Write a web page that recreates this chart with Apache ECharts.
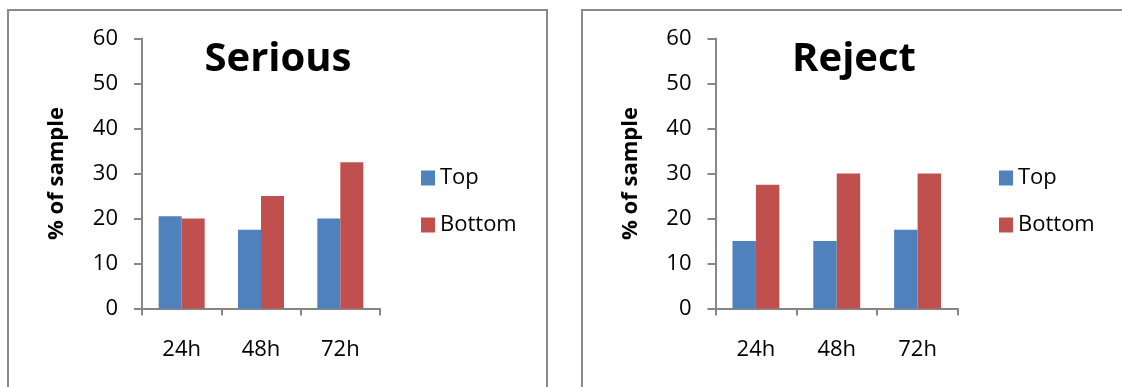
<!DOCTYPE html>
<html>
<head>
<meta charset="utf-8">
<script src="https://cdn.jsdelivr.net/npm/echarts@6/dist/echarts.min.js"></script>
<style>
  html, body { margin: 0; padding: 0; background: #fff; }
  #chart { width: 1122px; height: 387px; }
</style>
</head>
<body>
<div id="chart"></div>
<script>
// Time points after treatment
const categories = ['24h', '48h', '72h'];
const seriesNames = ['Top', 'Bottom'];

// Share of samples (%) rated "Serious"
const seriousTop = [20.5, 17.5, 20];
const seriousBottom = [20, 25, 32.5];

// Share of samples (%) rated "Reject"
const rejectTop = [15, 15, 17.5];
const rejectBottom = [27.5, 30, 30];

// Value axis range
const yMin = 0;
const yMax = 60;
const yStep = 10;

const FONT = '"Open Sans", "Liberation Sans", sans-serif';
const BLUE = '#4F81BD';
const RED = '#C0504D';
const AXIS_GRAY = '#868686';

function xAxisFor(gridIndex) {
  return {
    type: 'category',
    gridIndex: gridIndex,
    data: categories,
    axisLine: { lineStyle: { color: AXIS_GRAY, width: 2 } },
    axisTick: { show: true, length: 7, lineStyle: { color: AXIS_GRAY, width: 2 } },
    axisLabel: { color: '#000', fontFamily: FONT, fontSize: 22, margin: 30 },
    splitLine: { show: false }
  };
}

function yAxisFor(gridIndex) {
  return {
    type: 'value',
    gridIndex: gridIndex,
    min: yMin,
    max: yMax,
    interval: yStep,
    name: '% of sample',
    nameLocation: 'middle',
    nameRotate: 90,
    nameGap: 74,
    nameTextStyle: { color: '#000', fontFamily: FONT, fontSize: 22, fontWeight: 'bold' },
    axisLine: { show: true, lineStyle: { color: AXIS_GRAY, width: 2 } },
    axisTick: { show: true, length: 8, lineStyle: { color: AXIS_GRAY, width: 2 } },
    axisLabel: { color: '#000', fontFamily: FONT, fontSize: 22, margin: 24 },
    splitLine: { show: false }
  };
}

function barSeries(name, values, color, idx) {
  return {
    name: name,
    type: 'bar',
    xAxisIndex: idx,
    yAxisIndex: idx,
    data: values,
    barGap: '0%',
    barCategoryGap: '42%',
    itemStyle: { color: color },
    emphasis: { disabled: true }
  };
}

function legendAt(left, top) {
  return {
    data: seriesNames,
    orient: 'vertical',
    left: left,
    top: top,
    itemWidth: 14,
    itemHeight: 15,
    itemGap: 25,
    icon: 'rect',
    selectedMode: false,
    textStyle: { color: '#000', fontFamily: FONT, fontSize: 22 }
  };
}

function panelTitle(text, cx) {
  return {
    type: 'text',
    x: cx,
    y: 60,
    style: {
      text: text,
      fill: '#000',
      font: 'bold 40px ' + FONT,
      textAlign: 'center',
      textVerticalAlign: 'middle'
    },
    z: 10
  };
}

function panelFrame(x, width) {
  return {
    type: 'rect',
    shape: { x: x, y: 10, width: width, height: 420 },
    style: { fill: 'none', stroke: '#8a8a8a', lineWidth: 2 },
    z: -1,
    silent: true
  };
}

const option = {
  animation: false,
  backgroundColor: '#fff',
  grid: [
    { left: 142, top: 38.5, width: 238, height: 270 },
    { left: 715.5, top: 38.5, width: 242.5, height: 270 }
  ],
  xAxis: [xAxisFor(0), xAxisFor(1)],
  yAxis: [yAxisFor(0), yAxisFor(1)],
  legend: [legendAt(416, 162), legendAt(994, 162)],
  series: [
    barSeries('Top', seriousTop, BLUE, 0),
    barSeries('Bottom', seriousBottom, RED, 0),
    barSeries('Top', rejectTop, BLUE, 1),
    barSeries('Bottom', rejectBottom, RED, 1)
  ],
  graphic: [
    panelFrame(8, 539),
    panelFrame(582, 600),
    panelTitle('Serious', 278),
    panelTitle('Reject', 854)
  ]
};

const chart = echarts.init(document.getElementById('chart'), null, { renderer: 'canvas' });
chart.setOption(option);
</script>
</body>
</html>
